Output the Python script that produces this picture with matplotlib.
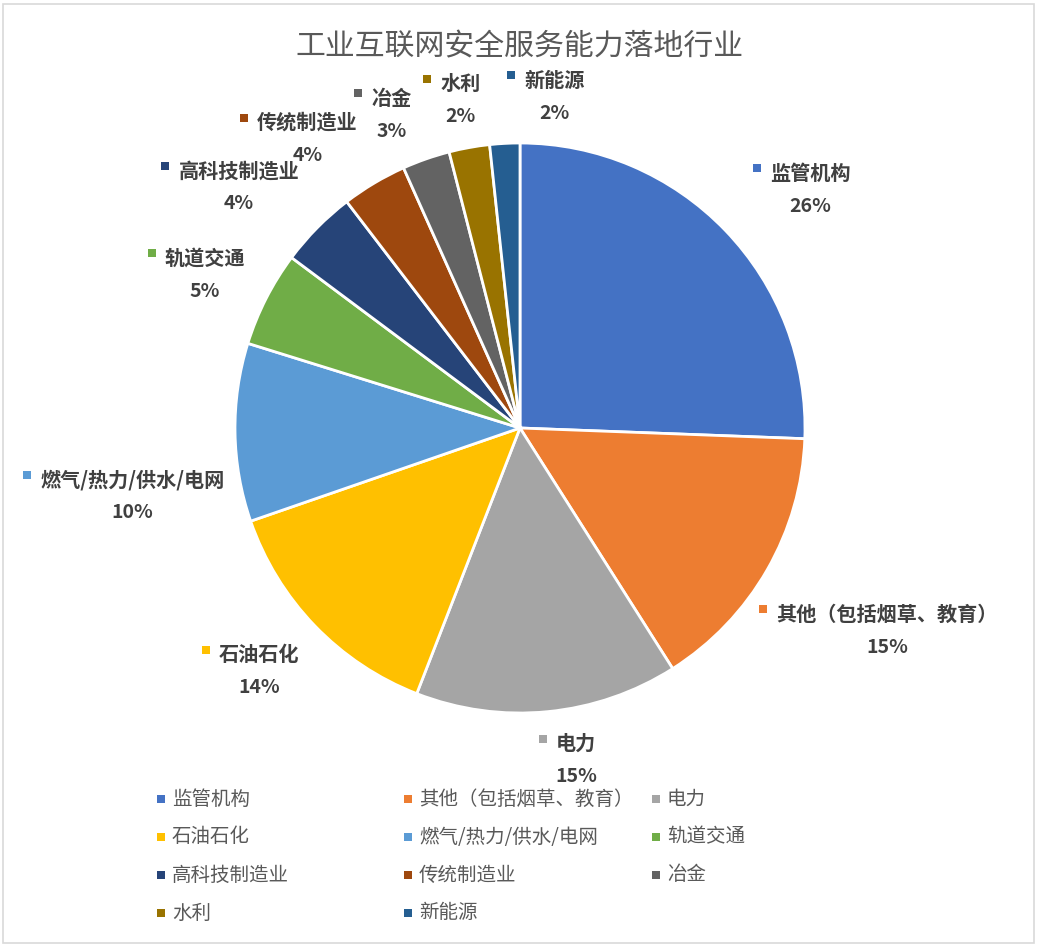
import numpy as np
import matplotlib
matplotlib.use("Agg")
import matplotlib.pyplot as plt
from matplotlib.patches import Rectangle

plt.rcParams["font.family"] = ["Noto Sans CJK SC", "DejaVu Sans"]

# data
categories = ["监管机构", "其他（包括烟草、教育）", "电力", "石油石化", "燃气/热力/供水/电网",
              "轨道交通", "高科技制造业", "传统制造业", "冶金", "水利", "新能源"]
shares = [25.6, 15.4, 14.9, 13.8, 10.1, 5.4, 4.4, 3.7, 2.7, 2.3, 1.7]
colors = ["#4472C4", "#ED7D31", "#A5A5A5", "#FFC000", "#5B9BD5", "#70AD47",
          "#264478", "#9E480E", "#636363", "#997300", "#255E91"]
title = "工业互联网安全服务能力落地行业"

# layout (pixels, y up)
W, H = 1038, 946
cx, cy, R = 520, 946 - 428, 285
label_r = [1.32, 1.47, 1.18, 1.25, 1.38, 1.23, 1.30, 1.26, 1.19, 1.17, 1.17]
label_shift = [4.5, -1, -4, 1, -9, -1, -4, -5.5, -3, 0, 9]  # clockwise degrees

fig = plt.figure(figsize=(W / 100, H / 100), dpi=100)
ax = fig.add_axes([0, 0, 1, 1])

wedges, _ = ax.pie(shares, colors=colors, startangle=90, counterclock=False,
                   center=(cx, cy), radius=R, frame=True,
                   wedgeprops=dict(edgecolor="white", linewidth=2))
ax.set_xlim(0, W)
ax.set_ylim(0, H)
ax.axis("off")

total = sum(shares)
renderer = fig.canvas.get_renderer()
for i, w in enumerate(wedges):
    mid = np.deg2rad((w.theta1 + w.theta2) / 2 - label_shift[i])
    x = cx + label_r[i] * R * np.cos(mid)
    y = cy + label_r[i] * R * np.sin(mid)
    name = ax.text(x, y + 16, categories[i], ha="center", va="center",
                   fontsize=14.5, fontweight="bold", color="#404040")
    ax.text(x, y - 17, f"{shares[i] / total * 100:.0f}%", ha="center", va="center",
            fontsize=14, fontweight="bold", color="#404040")
    bb = name.get_window_extent(renderer)
    ax.add_patch(Rectangle((bb.x0 - 17, y + 17), 8, 8, color=colors[i], lw=0))

# legend, row-major, 3 columns
col_x = [157, 404, 652]
row_y = [H - 799, H - 837, H - 875, H - 913]
for i, name in enumerate(categories):
    r, c = divmod(i, 3)
    ax.add_patch(Rectangle((col_x[c], row_y[r] - 4), 8, 8, color=colors[i], lw=0))
    ax.text(col_x[c] + 15, row_y[r], name, ha="left", va="center",
            fontsize=14, color="#595959")

ax.text(W / 2 + 1, H - 47, title, ha="center", va="center", fontsize=21.5, color="#595959")

fig.patches.append(Rectangle((3 / W, 3 / H), 1 - 7 / W, 1 - 7 / H, transform=fig.transFigure,
                             fill=False, edgecolor="#D9D9D9", linewidth=1.2))

fig.savefig("out.png", dpi=100)
